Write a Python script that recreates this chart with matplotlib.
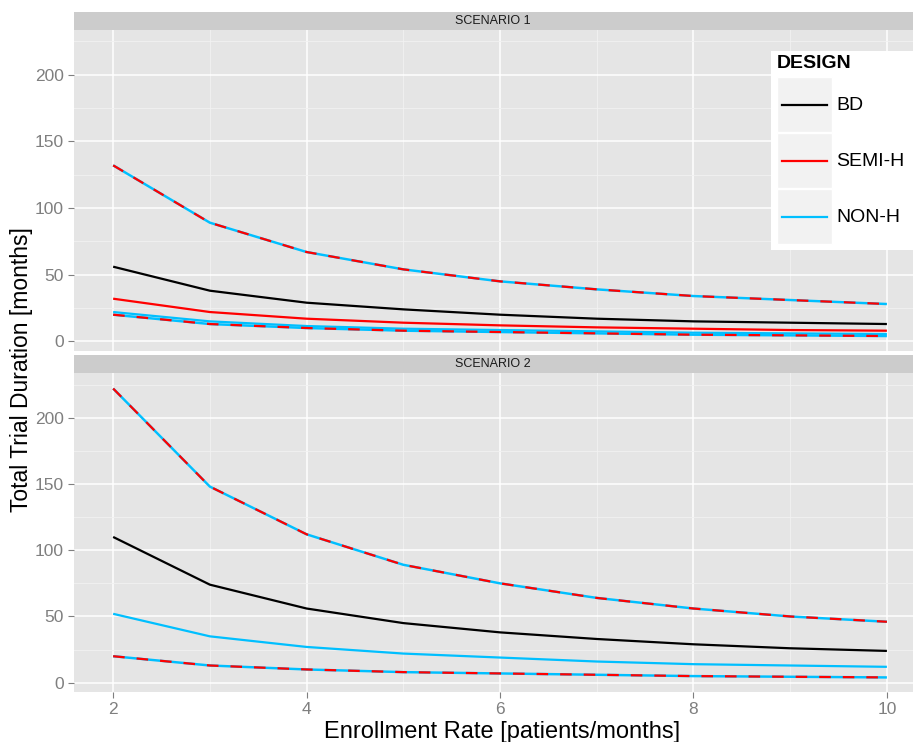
import matplotlib
matplotlib.use("Agg")
import matplotlib.pyplot as plt
from matplotlib.patches import Rectangle
from matplotlib.lines import Line2D

plt.rcParams['font.family'] = ['Liberation Sans', 'DejaVu Sans']

rate = [2, 3, 4, 5, 6, 7, 8, 9, 10]
designs = ["BD", "SEMI-H", "NON-H"]
colors = {"BD": "#000000", "SEMI-H": "#FF0000", "NON-H": "#00BFFF"}
scenarios = ["SCENARIO 1", "SCENARIO 2"]

# Scenario 1
s1_bd = [56, 38, 29, 24, 20, 17, 15, 14, 13]
s1_semi_solid = [32, 22, 17, 14, 12, 10.5, 9.5, 8.5, 8]
s1_non_solid = [22, 15, 11.5, 9.5, 8.5, 7.5, 6.5, 6, 5.5]
s1_high_dashed = [132, 89, 67, 54, 45, 39, 34, 31, 28]
s1_low_dashed = [20, 13, 10, 8, 7, 6, 5, 4.5, 4]

# Scenario 2
s2_bd = [110, 74, 56, 45, 38, 33, 29, 26, 24]
s2_non_solid = [52, 35, 27, 22, 19, 16, 14, 13, 12]
s2_high_dashed = [222, 148, 112, 89, 75, 64, 56, 50, 46]
s2_low_dashed = [20, 13, 10, 8, 7, 6, 5, 4.5, 4]

panels = [
    dict(solid=[("BD", s1_bd), ("SEMI-H", s1_semi_solid), ("NON-H", s1_non_solid)],
         dashed=[s1_high_dashed, s1_low_dashed]),
    dict(solid=[("BD", s2_bd), ("NON-H", s2_non_solid)],
         dashed=[s2_high_dashed, s2_low_dashed]),
]

W, H = 913, 742
fig = plt.figure(figsize=(W / 100, H / 100), dpi=100)

def px(x0, y0, x1, y1):
    return [x0 / W, 1 - y1 / H, (x1 - x0) / W, (y1 - y0) / H]

panel_px = [(73.5, 30, 913, 350.7), (73.5, 373.3, 913, 692)]
strip_px = [(73.5, 12, 913, 30), (73.5, 355, 913, 373.3)]
LW = 1.6
GREY50 = "#7F7F7F"
for i, (pp, sp, spec) in enumerate(zip(panel_px, strip_px, panels)):
    ax = fig.add_axes(px(*pp))
    ax.set_facecolor("#E5E5E5")
    for s in ax.spines.values():
        s.set_visible(False)
    ax.set_xlim(1.59, 10.27)
    ax.set_ylim(-7, 233.5)
    ax.set_xticks([2, 4, 6, 8, 10])
    ax.set_xticks([3, 5, 7, 9], minor=True)
    ax.set_yticks([0, 50, 100, 150, 200])
    ax.set_yticks([25, 75, 125, 175, 225], minor=True)
    ax.grid(True, which="major", color="white", lw=1.1)
    ax.grid(True, which="minor", color="#F2F2F2", lw=0.6)
    ax.set_axisbelow(True)
    ax.tick_params(which="minor", length=0)
    ax.tick_params(which="major", length=4, color=GREY50, labelsize=12.5,
                   labelcolor=GREY50, width=0.8, pad=3)
    if i == 0:
        ax.tick_params(axis="x", labelbottom=False, length=0)
    for d, vals in spec["solid"]:
        ax.plot(rate, vals, color=colors[d], lw=LW, solid_capstyle="butt")
    for vals in spec["dashed"]:
        ax.plot(rate, vals, color=colors["NON-H"], lw=LW * 1.1, solid_capstyle="butt")
        ax.plot(rate, vals, color=colors["SEMI-H"], lw=LW, dashes=(5.2, 5.4))
    sax = fig.add_axes(px(*sp))
    sax.set_facecolor("#CCCCCC")
    sax.set_xticks([]); sax.set_yticks([])
    for s in sax.spines.values():
        s.set_visible(False)
    sax.text(0.5, 0.5, scenarios[i], ha="center", va="center", fontsize=9,
             color="#1A1A1A", transform=sax.transAxes)

fig.text(502 / W, 1 - 732 / H, "Enrollment Rate [patients/months]", ha="center",
         va="center", fontsize=17)
fig.text(22 / W, 1 - 370 / H, "Total Trial Duration [months]", ha="center",
         va="center", fontsize=16.5, rotation=90)

# Legend (drawn manually in figure pixel coords)
lax = fig.add_axes(px(771, 51, 913, 250))
lax.set_xlim(771, 913)
lax.set_ylim(250, 51)
lax.axis("off")
lax.add_patch(Rectangle((771, 51), 142, 199, facecolor="white", edgecolor="none"))
lax.text(777, 64, "DESIGN", fontsize=14, fontweight="bold", va="center", ha="left")
for k, d in enumerate(designs):
    y0 = 77 + k * 56
    lax.add_patch(Rectangle((777, y0), 55, 55, facecolor="#F2F2F2", edgecolor="white", lw=1))
    lax.add_line(Line2D([782, 827], [y0 + 27.5, y0 + 27.5], color=colors[d], lw=LW))
    lax.text(836, y0 + 28.5, d, fontsize=14, va="center", ha="left")

fig.savefig("out.png", dpi=100)
